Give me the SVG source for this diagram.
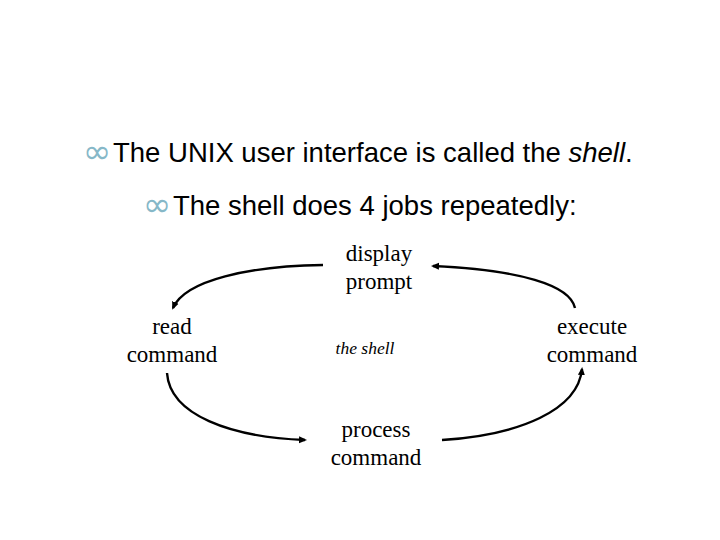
<svg xmlns="http://www.w3.org/2000/svg" width="720" height="540" viewBox="0 0 720 540">
<style>
.b{font-family:"Liberation Sans",Arial,sans-serif;font-size:27.5px;fill:#000}
.bul{font-family:"DejaVu Sans",sans-serif;font-size:34px;fill:#86b8c8}
.s{font-family:"Liberation Serif","Times New Roman",serif;font-size:23px;fill:#000;text-anchor:middle}
.i{font-family:"Liberation Serif","Times New Roman",serif;font-size:17.5px;font-style:italic;fill:#000;text-anchor:middle}
.c{fill:none;stroke:#000;stroke-width:2.4;marker-end:url(#ah)}
</style>
<defs>
<marker id="ah" markerWidth="8" markerHeight="8" refX="6" refY="4" orient="auto" markerUnits="userSpaceOnUse">
<path d="M0,0.5 L8,4 L0,7.5 Z" fill="#000"/>
</marker>
</defs>
<rect width="720" height="540" fill="#fff"/>
<g id="bullets">
<text class="bul" x="83" y="163">∞</text>
<text class="b" x="113" y="162">The UNIX user interface is called the <tspan font-style="italic">shell</tspan>.</text>
<text class="bul" x="143" y="216">∞</text>
<text class="b" x="173" y="215">The shell does 4 jobs repeatedly:</text>
</g>
<g id="connectors">
<path class="c" d="M323,265 C250,266 185,280 173,308"/>
<path class="c" d="M575,308 C570,285 520,270 433,266"/>
<path class="c" d="M167,373 C170,415 230,437 305,440"/>
<path class="c" d="M442,440 C520,435 578,410 582,369"/>
</g>
<g id="display"><text class="s" x="379" y="261">display</text><text class="s" x="379" y="289">prompt</text></g>
<g id="read"><text class="s" x="172" y="334">read</text><text class="s" x="172" y="362">command</text></g>
<g id="execute"><text class="s" x="592" y="334">execute</text><text class="s" x="592" y="362">command</text></g>
<g id="process"><text class="s" x="376" y="437">process</text><text class="s" x="376" y="465">command</text></g>
<g id="shell"><text class="i" x="365" y="354">the shell</text></g>
</svg>
